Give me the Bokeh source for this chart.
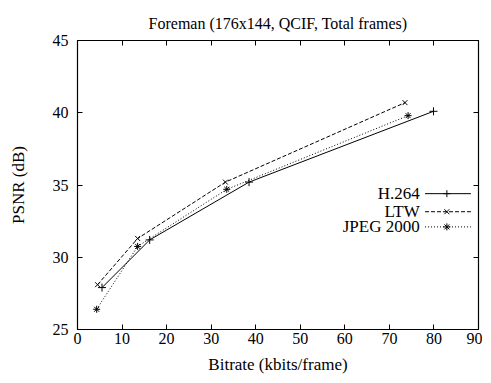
from bokeh.plotting import figure
from bokeh.models import LinearAxis, Range1d, FixedTicker, Title, CustomJSTickFormatter
from bokeh.core.properties import value
from bokeh.embed import file_html
from bokeh.resources import INLINE

# Data
h264_x = [5.5, 16.2, 38.5, 79.9]
h264_y = [27.9, 31.2, 35.2, 40.1]
ltw_x = [4.5, 13.5, 33.2, 73.5]
ltw_y = [28.1, 31.3, 35.2, 40.7]
jp2k_x = [4.3, 13.5, 33.5, 74.2]
jp2k_y = [26.4, 30.75, 34.7, 39.8]

x_ticks = [0, 10, 20, 30, 40, 50, 60, 70, 80, 90]
y_ticks = [25, 30, 35, 40, 45]

series_names = ["H.264", "LTW", "JPEG 2000"]

FONT = "Liberation Serif"

p = figure(width=482, height=383, output_backend="svg", toolbar_location=None,
           x_range=Range1d(0, 90), y_range=Range1d(25, 45),
           min_border_left=77, min_border_right=4, min_border_top=40, min_border_bottom=54)
p.title = Title(text="Foreman (176x144, QCIF, Total frames)", align="center",
                text_font=FONT, text_font_size="16px", text_font_style="normal",
                text_color="black", standoff=18)
p.grid.visible = False
p.outline_line_color = "black"
p.outline_line_width = 1.2
p.background_fill_color = "white"
p.border_fill_color = "white"

for ax in [p.xaxis[0], p.yaxis[0]]:
    ax.major_tick_in = 5
    ax.major_tick_out = 0
    ax.minor_tick_line_color = None
    ax.axis_line_color = None
    ax.major_label_text_font = FONT
    ax.major_label_text_font_size = "16px"
    ax.major_label_text_color = "black"
    ax.axis_label_text_font = FONT
    ax.axis_label_text_font_size = "17px"
    ax.axis_label_text_font_style = "normal"
    ax.axis_label_text_color = "black"
p.xaxis[0].ticker = FixedTicker(ticks=x_ticks)
p.yaxis[0].ticker = FixedTicker(ticks=y_ticks)
p.xaxis[0].axis_label = "Bitrate (kbits/frame)"
p.yaxis[0].axis_label = "PSNR (dB)"
p.xaxis[0].major_label_standoff = 3
p.yaxis[0].major_label_standoff = 9
p.xaxis[0].axis_label_standoff = 8
p.yaxis[0].axis_label_standoff = 22

# mirrored ticks (no labels)
top = LinearAxis(ticker=FixedTicker(ticks=x_ticks), major_tick_in=5, major_tick_out=0,
                 minor_tick_line_color=None, axis_line_color=None,
                 formatter=CustomJSTickFormatter(code="return ''"), major_label_standoff=0,
                 major_label_text_font_size="1px")
right = LinearAxis(ticker=FixedTicker(ticks=y_ticks), major_tick_in=5, major_tick_out=0,
                   minor_tick_line_color=None, axis_line_color=None,
                   formatter=CustomJSTickFormatter(code="return ''"), major_label_standoff=0,
                   major_label_text_font_size="1px")
p.add_layout(top, "above")
p.add_layout(right, "right")

p.line(h264_x, h264_y, line_color="black", line_width=1)
p.scatter(h264_x, h264_y, marker="cross", size=8, line_color="black", line_width=1)
p.line(ltw_x, ltw_y, line_color="black", line_width=1, line_dash="4 2")
p.scatter(ltw_x, ltw_y, marker="x", size=7, line_color="black", line_width=1)
p.line(jp2k_x, jp2k_y, line_color="black", line_width=1, line_dash="1 2")
p.scatter(jp2k_x, jp2k_y, marker="asterisk", size=7, line_color="black", line_width=1)

# gnuplot-style legend (text on left, sample on right)
leg_y = [34.4, 33.15, 32.1]
leg_text_x = 76.8
leg_x0, leg_x1, leg_xm = 78.0, 88.3, 82.9
p.text([leg_text_x] * 3, leg_y, text=series_names, text_align="right", text_baseline="middle",
       text_font=value(FONT), text_font_size="17px", text_color="black")
dashes = ["solid", "4 2", "1 2"]
markers = ["cross", "x", "asterisk"]
for yy, d, m in zip(leg_y, dashes, markers):
    p.line([leg_x0, leg_x1], [yy, yy], line_color="black", line_width=1, line_dash=d)
    p.scatter([leg_xm], [yy], marker=m, size=7, line_color="black", line_width=1)

open("out.html", "w").write(file_html(p, INLINE))
